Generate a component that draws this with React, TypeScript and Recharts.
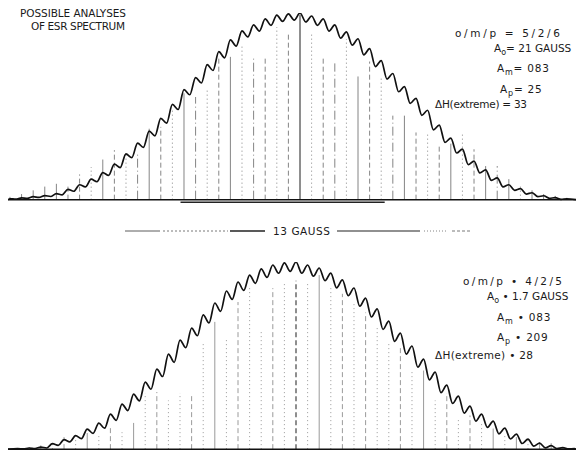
import { LineChart, Line, XAxis, YAxis, ReferenceLine } from 'recharts';

// line positions are numbered k = ..., -1, 0, 1, ... (one per ripple), intensity 0..100
const topPeaks = [0.5, 1, 1.6, 2.2, 3.2, 5.5, 8, 11, 14.5, 19, 24.5, 30.3, 36.7, 43.6, 51, 59, 65.4, 72.3, 79.3, 85.6, 90.4, 93.6, 96.8, 98.9, 99.5, 100, 98.4, 96.8, 93.6, 89.9, 86.2, 80.9, 74.5, 67.6, 60.6, 54.3, 47.9, 39.9, 33, 27.1, 20.7, 16, 11.7, 8, 5.9, 3.7, 2.1, 1.1, 0.5];
const topTroughs = [0.3, 0.7, 1.2, 1.7, 2.6, 4.5, 6.8, 9.6, 13, 17.2, 22.5, 28, 34.2, 41, 48.3, 56.2, 62.5, 69.2, 76, 82.3, 87.2, 90.3, 93.4, 95.5, 96.2, 95.2, 93.4, 90.3, 86.5, 82.8, 77.6, 71.3, 64.6, 57.8, 51.6, 45.2, 37.4, 30.7, 25, 18.8, 14.3, 10.3, 6.8, 5, 3, 1.6, 0.7, 0.2];
const topSticks = [1.5, 3, 5, 7, 8.5, 7, 13.5, 17.5, 21.5, 26.5, 25, 25.5, 38, 39, 48, 57, 55, 59, 76, 76.5, 82, 76, 76.5, 92.5, 90, 99, 89, 76.5, 73, 86, 66, 74, 66, 45, 45, 36, 36, 29, 30, 35, 27, 18, 18, 11, 8, 5, 3, 2, 1];
const topStickStyle = [0, 0, 0, 0, 0, 2, 2, 1, 0, 2, 1, 3, 0, 2, 1, 0, 3, 1, 2, 0, 1, 3, 2, 1, 2, 0, 1, 2, 3, 1, 0, 2, 1, 3, 0, 2, 1, 2, 0, 1, 2, 0, 3, 0, 1, 0, 0, 0, 0];
const TOP_FIRST_K = -25;

const bottomPeaks = [0.3, 0.6, 1.1, 2.9, 5.1, 7.2, 10.7, 13.9, 18.7, 24.1, 29.4, 35.8, 42.8, 50.8, 58.3, 64.7, 71.7, 78.1, 84.5, 89.3, 93, 96.3, 98.4, 99.5, 100, 98.4, 96.8, 94.1, 90.4, 86.1, 80.7, 74.9, 68.4, 62, 55.1, 48.1, 41.2, 34.2, 28.3, 23, 18.7, 15, 11.2, 8, 5.3, 3.2, 1.9, 0.8, 0.3];
const bottomTroughs = [0.1, 0.3, 0.6, 2, 3.9, 5.6, 8.4, 11.2, 15.4, 20.6, 25.8, 32, 38.8, 46.4, 54.2, 60.6, 67.4, 73.6, 80, 84.8, 88.6, 91.8, 94, 95, 94, 92.4, 90, 86.2, 82, 76.4, 70.6, 64, 57.6, 50.8, 43.8, 37, 30.2, 24.4, 19.2, 15, 11.6, 8.2, 5.4, 3, 1.6, 0.7, 0.3, 0.1];
const bottomSticks = [0.5, 1, 2, 3, 6.4, 5, 8.6, 7.5, 12.8, 9, 14, 30, 30.5, 26, 30, 29, 57, 68, 59, 78.6, 86, 62.6, 86, 89, 90, 89, 93, 86, 83, 78, 73, 66, 57, 54.5, 42, 42, 26, 30, 15.5, 18, 14, 11, 8.5, 6.4, 4.8, 3.7, 3.2, 1, 0.5];
const bottomStickStyle = [0, 0, 0, 1, 2, 1, 0, 1, 2, 1, 0, 1, 2, 1, 1, 2, 1, 0, 1, 2, 1, 1, 2, 1, 2, 1, 0, 1, 2, 1, 2, 1, 1, 2, 1, 0, 1, 2, 1, 2, 1, 0, 1, 0, 1, 0, 0, 0, 0];
const BOTTOM_FIRST_K = -24;

const DASHES = [undefined, '1 3', '5 3', '9 3 1 3'];

function buildCurve(peaks: number[], troughs: number[], firstK: number, start: number, end: number) {
  const pts = [{ x: start, y: 0 }];
  peaks.forEach((p, i) => {
    pts.push({ x: firstK + i, y: p });
    if (i < troughs.length) pts.push({ x: firstK + i + 0.5, y: troughs[i] });
  });
  pts.push({ x: end, y: 0 });
  return pts;
}

interface PanelProps {
  peaks: number[];
  troughs: number[];
  sticks: number[];
  styles: number[];
  firstK: number;
  xDomain: [number, number];
  yMin: number;
  top: number;
  height: number;
  marginTop: number;
  stickColor: string;
  underline?: [number, number];
}

function Panel({ peaks, troughs, sticks, styles, firstK, xDomain, yMin, top, height, marginTop, stickColor, underline }: PanelProps) {
  const data = buildCurve(peaks, troughs, firstK, xDomain[0], xDomain[1]);
  return (
    <div style={{ position: 'absolute', left: 0, top }}>
      <LineChart width={576} height={height} data={data} margin={{ top: marginTop, right: 0, bottom: 0, left: 8 }}>
        <XAxis type="number" dataKey="x" domain={xDomain} allowDataOverflow hide />
        <YAxis type="number" domain={[yMin, 100]} allowDataOverflow hide width={0} />
        {sticks.map((h, i) => (
          <ReferenceLine
            key={`s-${i}`}
            segment={[{ x: firstK + i, y: 0 }, { x: firstK + i, y: h }]}
            stroke={firstK + i === 0 ? '#333' : stickColor}
            strokeWidth={firstK + i === 0 ? 1.1 : 0.8}
            strokeDasharray={DASHES[styles[i]]}
          />
        ))}
        <ReferenceLine y={0} stroke="#111" strokeWidth={1.5} />
        {underline && (
          <ReferenceLine segment={[{ x: underline[0], y: -1.4 }, { x: underline[1], y: -1.4 }]} stroke="#222" strokeWidth={1.6} />
        )}
        <Line type="monotone" dataKey="y" stroke="#111" strokeWidth={1.7} dot={false} isAnimationActive={false} />
      </LineChart>
    </div>
  );
}

const txt = { fontFamily: '"DejaVu Sans", sans-serif', fontSize: 10.5, fill: '#1a1a1a' };

export default function App() {
  return (
    <div style={{ position: 'absolute', left: 0, top: 0, width: 576, height: 451, background: '#fff', overflow: 'hidden' }}>
      <Panel peaks={topPeaks} troughs={topTroughs} sticks={topSticks} styles={topStickStyle} firstK={TOP_FIRST_K}
        xDomain={[-25.17, 23.79]} yMin={-5} top={0} height={209} marginTop={13} stickColor="#666" underline={[-10.3, 7.3]} />
      <Panel peaks={bottomPeaks} troughs={bottomTroughs} sticks={bottomSticks} styles={bottomStickStyle} firstK={BOTTOM_FIRST_K}
        xDomain={[-24.83, 24.14]} yMin={-1} top={250} height={201} marginTop={12} stickColor="#808080" />
      <svg width={576} height={451} style={{ position: 'absolute', left: 0, top: 0, pointerEvents: 'none' }}>
        <text x={20} y={17} {...txt} fontSize={10.5} textLength={106} lengthAdjust="spacing">POSSIBLE ANALYSES</text>
        <text x={31} y={30} {...txt} fontSize={10.5} textLength={94} lengthAdjust="spacing">OF ESR SPECTRUM</text>

        <text x={455} y={37} {...txt} textLength={105}>o/m/p = 5/2/6</text>
        <text x={494} y={52} {...txt}>A<tspan dy={3} fontSize={8}>o</tspan><tspan dy={-3}>= 21 GAUSS</tspan></text>
        <text x={497} y={72} {...txt} letterSpacing={0.8}>A<tspan dy={3} fontSize={8}>m</tspan><tspan dy={-3}>= 083</tspan></text>
        <text x={500} y={93} {...txt} letterSpacing={0.8}>A<tspan dy={3} fontSize={8}>p</tspan><tspan dy={-3}>= 25</tspan></text>
        <text x={435} y={108} {...txt} textLength={92}>ΔH(extreme) = 33</text>

        <line x1={125} y1={231} x2={160} y2={231} stroke="#333" strokeWidth={0.8} />
        <line x1={163} y1={231} x2={228} y2={231} stroke="#555" strokeWidth={0.8} strokeDasharray="2 2" />
        <line x1={230} y1={231} x2={265} y2={231} stroke="#222" strokeWidth={1.4} />
        <text x={273} y={235} {...txt} textLength={57}>13 GAUSS</text>
        <line x1={337} y1={231} x2={420} y2={231} stroke="#222" strokeWidth={1.1} />
        <line x1={424} y1={231} x2={448} y2={231} stroke="#666" strokeWidth={0.8} strokeDasharray="1 2" />
        <line x1={452} y1={231} x2={472} y2={231} stroke="#555" strokeWidth={0.8} strokeDasharray="3 2" />

        <text x={463} y={285} {...txt} textLength={99}>o/m/p • 4/2/5</text>
        <text x={487} y={300} {...txt}>A<tspan dy={3} fontSize={8}>o</tspan><tspan dy={-3}> • 1.7 GAUSS</tspan></text>
        <text x={497} y={321} {...txt} letterSpacing={0.8}>A<tspan dy={3} fontSize={8}>m</tspan><tspan dy={-3}> • 083</tspan></text>
        <text x={497} y={341} {...txt} letterSpacing={0.8}>A<tspan dy={3} fontSize={8}>p</tspan><tspan dy={-3}> • 209</tspan></text>
        <text x={435} y={359} {...txt} textLength={98}>ΔH(extreme) • 28</text>
      </svg>
    </div>
  );
}
